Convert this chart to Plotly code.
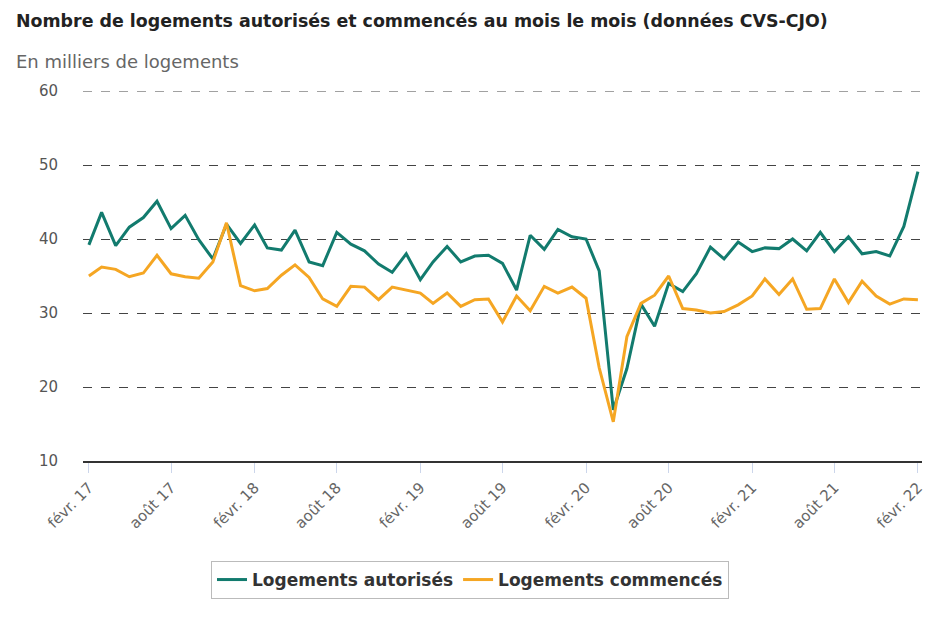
import plotly.graph_objects as go
import pandas as pd

months = pd.date_range("2017-02-01", "2022-02-01", freq="MS").strftime("%Y-%m-%d").tolist()

autorises = [39.2, 43.6, 39.1, 41.6, 42.9, 45.1, 41.4, 43.2, 39.9, 37.3,
             42.0, 39.4, 41.9, 38.8, 38.5, 41.2, 36.9, 36.4, 40.9, 39.3,
             38.4, 36.6, 35.5, 38.0, 34.5, 36.9, 39.0, 36.9, 37.7, 37.8,
             36.7, 33.1, 40.5, 38.6, 41.3, 40.3, 40.0, 35.7, 16.9, 22.5,
             31.2, 28.2, 34.0, 32.9, 35.3, 38.9, 37.3, 39.6, 38.3, 38.8,
             38.7, 40.0, 38.4, 40.9, 38.3, 40.3, 38.0, 38.3, 37.7, 41.7, 49.1]

commences = [35.0, 36.2, 35.9, 34.9, 35.4, 37.8, 35.3, 34.9, 34.7, 36.9,
             42.2, 33.7, 33.0, 33.3, 35.1, 36.5, 34.8, 31.9, 30.9, 33.6,
             33.5, 31.8, 33.5, 33.1, 32.7, 31.3, 32.7, 30.9, 31.8, 31.9,
             28.8, 32.3, 30.3, 33.6, 32.7, 33.5, 32.0, 22.6, 15.3, 26.8,
             31.3, 32.4, 35.0, 30.6, 30.4, 30.0, 30.2, 31.1, 32.3, 34.6,
             32.5, 34.6, 30.5, 30.6, 34.6, 31.4, 34.3, 32.3, 31.2, 31.9, 31.8]

tick_vals = months[::6]
tick_text = ["févr. 17", "août 17", "févr. 18", "août 18", "févr. 19", "août 19",
             "févr. 20", "août 20", "févr. 21", "août 21", "févr. 22"]
y_ticks = [10, 20, 30, 40, 50, 60]

GREEN = "#127b6e"
ORANGE = "#f5a623"
FONT = "DejaVu Sans, sans-serif"

L, R, T, B = 83, 18, 91, 165
PH = 626 - T - B
PW = 940 - L - R

fig = go.Figure()
fig.add_trace(go.Scatter(x=months, y=autorises, mode="lines", name="Logements autorisés",
                         line=dict(color=GREEN, width=3)))
fig.add_trace(go.Scatter(x=months, y=commences, mode="lines", name="Logements commencés",
                         line=dict(color=ORANGE, width=3)))

# top gridline (Plotly skips the grid line lying on the plot edge)
fig.add_shape(type="line", xref="paper", yref="y", x0=0, x1=1, y0=y_ticks[-1], y1=y_ticks[-1],
              line=dict(color="#444", width=1, dash="dash"), layer="below")

fig.update_layout(
    width=940, height=626,
    margin=dict(l=L, r=R, t=T, b=B, autoexpand=False),
    paper_bgcolor="white", plot_bgcolor="white",
    font=dict(family=FONT, color="#333"),
    showlegend=True,
    title=dict(text="<b>Nombre de logements autorisés et commencés au mois le mois (données CVS-CJO)</b>",
               xref="container", yref="container", x=16 / 940, xanchor="left",
               y=1 - 21 / 626, yanchor="middle",
               font=dict(size=17.4, color="#222", family=FONT)),
    legend=dict(orientation="h", xref="paper", x=(470 - L) / PW, xanchor="center",
                y=-(580 - (T + PH)) / PH, yanchor="middle",
                bordercolor="#bbbbbb", borderwidth=1, bgcolor="white",
                font=dict(size=17, color="#333", family=FONT, weight="bold"),
                itemwidth=30),
    xaxis=dict(
        range=["2017-01-19", "2022-02-10"],
        tickvals=tick_vals, ticktext=tick_text, tickangle=-45,
        ticks="outside", ticklen=10, tickcolor="#ccd6eb",
        tickfont=dict(size=15, color="#666"),
        showgrid=False, showline=True, linecolor="#333", linewidth=2,
        zeroline=False, automargin=False,
    ),
    yaxis=dict(
        range=[10, 60], tickvals=y_ticks,
        showgrid=True, gridcolor="#444", griddash="dash", gridwidth=1,
        zeroline=False, showline=False,
        tickfont=dict(size=15, color="#555"),
        ticklabelstandoff=24, automargin=False,
    ),
)

fig.add_annotation(text="En milliers de logements",
                   xref="paper", yref="paper", x=(14 - L) / PW, y=(T + PH - 62) / PH,
                   showarrow=False, xanchor="left", yanchor="middle",
                   font=dict(size=18, color="#666", family=FONT))

fig.write_html("out.html", config={"displayModeBar": False},
               post_script="document.body.style.margin='0';")
